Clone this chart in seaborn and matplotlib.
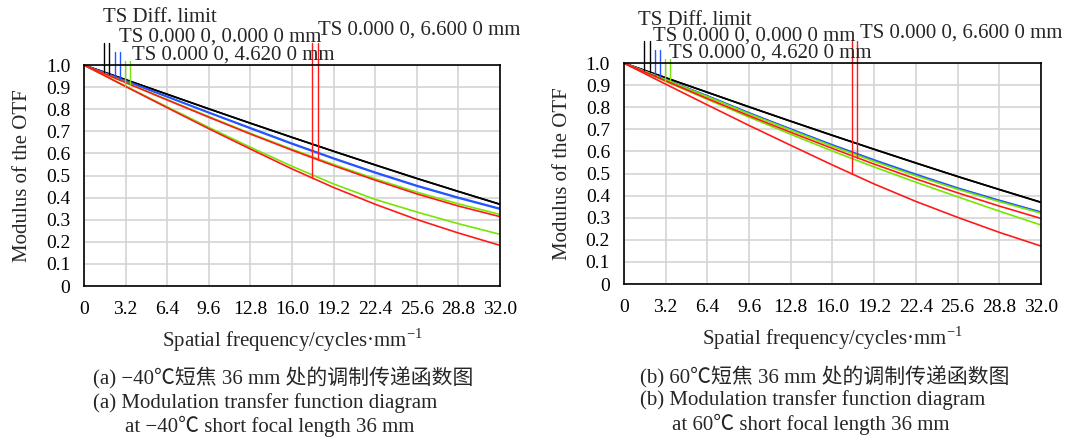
import numpy as np
import pandas as pd
import seaborn as sns
import matplotlib.pyplot as plt

# spatial frequency samples (cycles/mm)
freq = [0, 3.2, 6.4, 9.6, 12.8, 16.0, 19.2, 22.4, 25.6, 28.8, 32.0]

# ---- (a) -40 C ----
cold_diff_t = [1.0, 0.934, 0.868, 0.802, 0.737, 0.673, 0.610, 0.548, 0.487, 0.428, 0.370]
cold_diff_s = [1.0, 0.934, 0.868, 0.802, 0.737, 0.673, 0.610, 0.548, 0.487, 0.428, 0.370]
cold_axis_t = [1.0, 0.928, 0.856, 0.784, 0.713, 0.643, 0.576, 0.512, 0.452, 0.398, 0.348]
cold_axis_s = [1.0, 0.929, 0.858, 0.786, 0.716, 0.646, 0.579, 0.515, 0.455, 0.401, 0.351]
cold_462_t = [1.0, 0.905, 0.811, 0.718, 0.628, 0.542, 0.462, 0.392, 0.335, 0.282, 0.234]
cold_462_s = [1.0, 0.922, 0.844, 0.767, 0.691, 0.619, 0.550, 0.485, 0.425, 0.372, 0.324]
cold_660_t = [1.0, 0.903, 0.807, 0.712, 0.620, 0.530, 0.446, 0.370, 0.301, 0.240, 0.184]
cold_660_s = [1.0, 0.921, 0.842, 0.764, 0.688, 0.615, 0.545, 0.479, 0.417, 0.362, 0.314]

# ---- (b) 60 C ----
hot_diff_t = [1.0, 0.934, 0.868, 0.802, 0.737, 0.673, 0.610, 0.548, 0.487, 0.428, 0.370]
hot_diff_s = [1.0, 0.934, 0.868, 0.802, 0.737, 0.673, 0.610, 0.548, 0.487, 0.428, 0.370]
hot_axis_t = [1.0, 0.926, 0.851, 0.774, 0.700, 0.628, 0.560, 0.495, 0.433, 0.377, 0.324]
hot_axis_s = [1.0, 0.926, 0.852, 0.775, 0.702, 0.630, 0.562, 0.497, 0.435, 0.379, 0.326]
hot_462_t = [1.0, 0.918, 0.836, 0.756, 0.678, 0.602, 0.530, 0.461, 0.395, 0.330, 0.267]
hot_462_s = [1.0, 0.925, 0.849, 0.771, 0.697, 0.624, 0.555, 0.490, 0.429, 0.373, 0.321]
hot_660_t = [1.0, 0.905, 0.811, 0.718, 0.628, 0.539, 0.453, 0.374, 0.302, 0.234, 0.172]
hot_660_s = [1.0, 0.920, 0.840, 0.762, 0.687, 0.614, 0.543, 0.476, 0.413, 0.353, 0.297]

curve_colors = ["black", "black", "#2456ff", "#2456ff", "#74e600", "#74e600", "#ff1a1a", "#ff1a1a"]

# label leader lines: x position and top (data units)
cold_lead_x = [1.54, 1.92, 2.38, 2.77, 3.15, 3.54, 17.56, 17.97]
hot_lead_x = [1.54, 2.00, 2.38, 2.76, 3.13, 3.51, 17.50, 17.90]
lead_top = [1.10, 1.10, 1.06, 1.06, 1.02, 1.02, 1.10, 1.10]

label_texts = ["TS Diff. limit", "TS 0.000 0, 0.000 0 mm",
               "TS 0.000 0, 4.620 0 mm", "TS 0.000 0, 6.600 0 mm"]
cold_label_xy = [(1.46, 1.217), (2.69, 1.127), (3.69, 1.045), (18.0, 1.158)]
hot_label_xy = [(1.07, 1.195), (2.23, 1.122), (3.45, 1.045), (18.1, 1.136)]

cold_caption = ["(a) \u221240\u2103短焦 36 mm 处的调制传递函数图",
                "(a) Modulation transfer function diagram",
                "at \u221240\u2103 short focal length 36 mm"]
hot_caption = ["(b) 60\u2103短焦 36 mm 处的调制传递函数图",
               "(b) Modulation transfer function diagram",
               "at 60\u2103 short focal length 36 mm"]

xticks = [0, 3.2, 6.4, 9.6, 12.8, 16.0, 19.2, 22.4, 25.6, 28.8, 32.0]
xticklabels = ["0", "3.2", "6.4", "9.6", "12.8", "16.0", "19.2", "22.4", "25.6", "28.8", "32.0"]
yticks = [0, 0.1, 0.2, 0.3, 0.4, 0.5, 0.6, 0.7, 0.8, 0.9, 1.0]
yticklabels = ["0", "0.1", "0.2", "0.3", "0.4", "0.5", "0.6", "0.7", "0.8", "0.9", "1.0"]

sns.set_style("whitegrid")
plt.rcParams['font.family'] = ['Liberation Serif', 'Noto Sans CJK SC']
plt.rcParams['mathtext.fontset'] = 'custom'
plt.rcParams['mathtext.rm'] = 'Liberation Serif'
plt.rcParams['axes.unicode_minus'] = True

fig = plt.figure(figsize=(10.72, 4.4), dpi=100)
ax_a = fig.add_axes([0.0784, 0.35, 0.388, 0.502])
ax_b = fig.add_axes([0.582, 0.3545, 0.389, 0.502])

panels = [
    (ax_a, [cold_diff_t, cold_diff_s, cold_axis_t, cold_axis_s,
            cold_462_t, cold_462_s, cold_660_t, cold_660_s], cold_lead_x, cold_label_xy),
    (ax_b, [hot_diff_t, hot_diff_s, hot_axis_t, hot_axis_s,
            hot_462_t, hot_462_s, hot_660_t, hot_660_s], hot_lead_x, hot_label_xy),
]

for ax, curves, lead_x, label_xy in panels:
    for vals, col in zip(curves, curve_colors):
        df = pd.DataFrame({"freq": freq, "mtf": vals})
        sns.lineplot(data=df, x="freq", y="mtf", color=col, lw=1.2, ax=ax, legend=False)
    # leader lines from curve up to the labels
    for lx, top, vals, col in zip(lead_x, lead_top, curves, curve_colors):
        y0 = np.interp(lx, freq, vals)
        ax.plot([lx, lx], [y0, top], color=col, lw=1.0, clip_on=False)
    for (tx, ty), txt in zip(label_xy, label_texts):
        ax.text(tx, ty, txt, fontsize=15, ha="left", va="center", clip_on=False)

    ax.set_xlim(0, 32)
    ax.set_ylim(0, 1.0)
    ax.set_xticks(xticks)
    ax.set_xticklabels(xticklabels)
    ax.set_yticks(yticks)
    ax.set_yticklabels(yticklabels)
    ax.grid(True, color="#d4d4d4", lw=1.2)
    for sp in ax.spines.values():
        sp.set_color("black")
        sp.set_linewidth(1.2)
    ax.tick_params(direction="in", length=4, width=1, colors="black", labelsize=14)
    ax.tick_params(axis="x", pad=11)
    ax.tick_params(axis="y", pad=10)
    ax.set_xlabel("Spatial frequency/cycles\u00b7mm$^{\u22121}$", fontsize=15, labelpad=6)
    ax.set_ylabel("Modulus of the OTF", fontsize=15, labelpad=10)

# captions
cold_cap_y = [0.140, 0.085, 0.030]
hot_cap_y = [0.143, 0.090, 0.036]
cold_cap_x = [0.087, 0.087, 0.1166]
hot_cap_x = [0.597, 0.597, 0.627]
for line, x, y in zip(cold_caption, cold_cap_x, cold_cap_y):
    fig.text(x, y, line, fontsize=15, ha="left", va="center")
for line, x, y in zip(hot_caption, hot_cap_x, hot_cap_y):
    fig.text(x, y, line, fontsize=15, ha="left", va="center")

fig.savefig("out.png", dpi=100)
